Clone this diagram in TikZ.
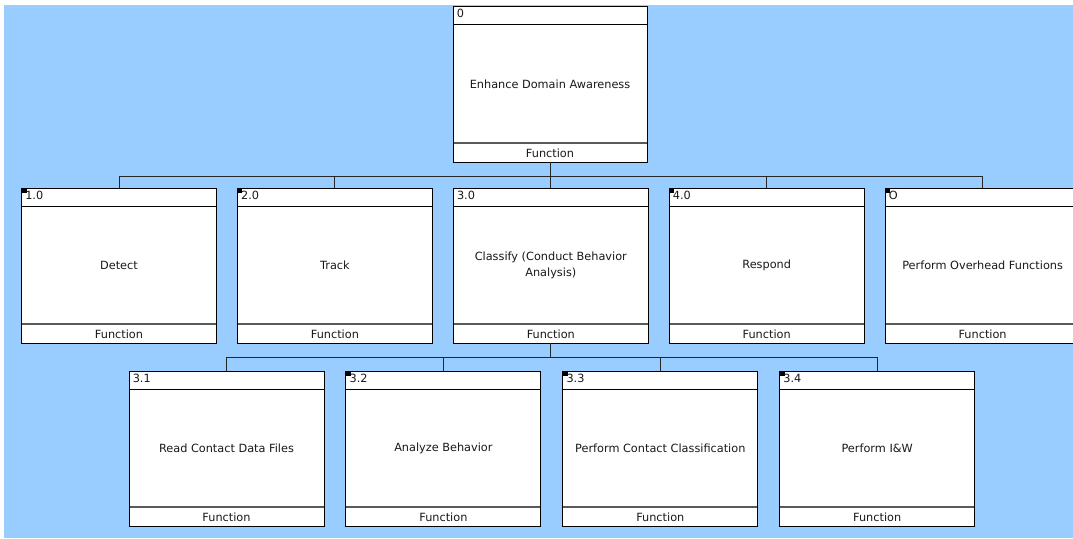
\documentclass[tikz,border=0pt]{standalone}
\usepackage{fontspec}
\setmainfont{DejaVu Sans}
\usetikzlibrary{positioning}
\definecolor{skyback}{RGB}{153,204,255}
\definecolor{footgray}{RGB}{90,90,90}

\begin{document}
\begin{tikzpicture}[
  x=1pt, y=-1pt,
  node distance = 20pt,
  fn/.style     = {draw, line width=0.9pt, fill=white, minimum width=195pt,
                   minimum height=155pt, inner sep=0pt, align=center,
                   font=\fontsize{11.3}{16.5}\selectfont, text=black!90,
                   path picture={
                     \draw[line width=0.9pt] ([yshift=-18pt]path picture bounding box.north west)
                       -- ([yshift=-18pt]path picture bounding box.north east);
                     \draw[line width=1.6pt, footgray] ([yshift=19pt]path picture bounding box.south west)
                       -- ([yshift=19pt]path picture bounding box.south east);
                   }},
  tagged/.style = {path picture={
                     \draw[line width=0.9pt] ([yshift=-18pt]path picture bounding box.north west)
                       -- ([yshift=-18pt]path picture bounding box.north east);
                     \draw[line width=1.6pt, footgray] ([yshift=19pt]path picture bounding box.south west)
                       -- ([yshift=19pt]path picture bounding box.south east);
                     \fill[black] (path picture bounding box.north west) rectangle ++(5pt,-5pt);
                   }},
  num/.style    = {label={[anchor=north west, inner sep=0pt, xshift=4pt, yshift=-3.5pt,
                   font=\fontsize{11.3}{14}\selectfont, text=black!90]north west:#1}},
  kind/.style   = {label={[anchor=south, inner sep=0pt, yshift=4.5pt,
                   font=\fontsize{11.3}{14}\selectfont, text=black!90]south:Function}},
  wire/.style   = {draw, line width=0.9pt, black!85},
]

% ---- background and frame ----
\useasboundingbox (0,0) rectangle (1073,538);
\fill[skyback] (4,5) rectangle (1073,538);

% ---- top function ----
\node[fn, num=0, kind, minimum width=194pt, minimum height=156pt] (eda) at (550,84) {Enhance Domain Awareness};

% ---- first level ----
\node[fn, tagged, num=1.0, kind] (detect) at (119,265.5) {Detect};
\node[fn, tagged, num=2.0, kind, right=of detect] (track) {Track};
\node[fn, num=3.0, kind, right=of track] (classify) {Classify (Conduct Behavior\\ Analysis)};
\node[fn, tagged, num=4.0, kind, right=of classify] (respond) {Respond};
\node[fn, tagged, num=O, kind, right=of respond] (overhead) {Perform Overhead Functions};

% ---- second level (under 3.0) ----
\node[fn, num=3.1, kind] (readcd) at (226.5,448.5) {Read Contact Data Files};
\node[fn, tagged, num=3.2, kind, right=21pt of readcd] (analyze) {Analyze Behavior};
\node[fn, tagged, num=3.3, kind, right=21pt of analyze] (contcls) {Perform Contact Classification};
\node[fn, tagged, num=3.4, kind, right=21pt of contcls] (iandw) {Perform I\&W};

% ---- tree connectors ----
\coordinate (bus1) at (eda.south |- 0,176);
\coordinate (bus2) at (classify.south |- 0,357);
\draw[wire] (eda.south) -- (bus1);
\foreach \c in {detect,track,classify,respond,overhead}
  \draw[wire] (bus1) -| (\c.north);
\draw[wire] (classify.south) -- (bus2);
\foreach \c in {readcd,analyze,contcls,iandw}
  \draw[wire] (bus2) -| (\c.north);

\end{tikzpicture}
\end{document}
